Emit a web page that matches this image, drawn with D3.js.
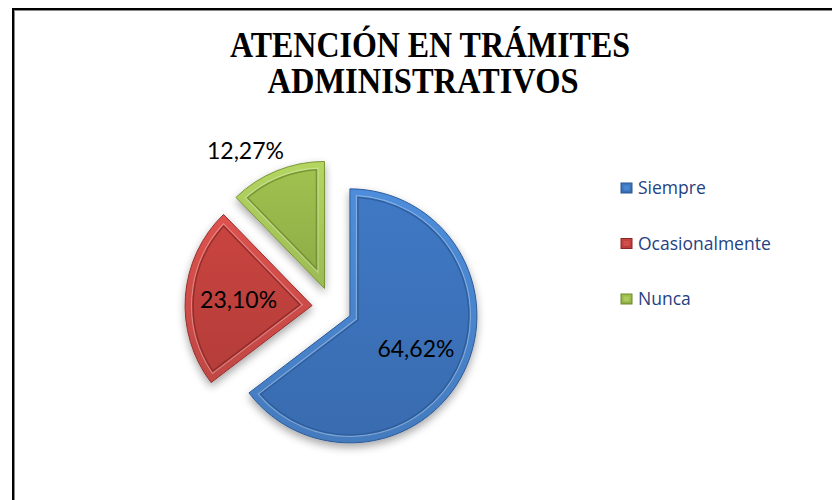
<!DOCTYPE html>
<html>
<head>
<meta charset="utf-8">
<script src="https://cdn.jsdelivr.net/npm/d3@7"></script>
<style>
  body { margin: 0; background: #fff; }
  svg { display: block; }
</style>
</head>
<body>
<div id="chart"></div>
<script>
const titleLines = ['ATENCIÓN EN TRÁMITES', 'ADMINISTRATIVOS'];
const categories = ['Siempre', 'Ocasionalmente', 'Nunca'];
const values = [64.62, 23.10, 12.27];
const labels = ['64,62%', '23,10%', '12,27%'];

const width = 832, height = 500;
const cx = 332, cy = 307, radius = 127, explode = 20, rim = 8;

const palette = [
  { rim: '#4a86d0', fill: '#3d74bd', dark: '#2a5793', edge: '#2c5a98' },
  { rim: '#d24e4a', fill: '#c2423e', dark: '#8a2623', edge: '#93302d' },
  { rim: '#abcb5c', fill: '#9aba4c', dark: '#6b8a2a', edge: '#789636' }
];

const svg = d3.select('#chart').append('svg')
    .attr('width', width)
    .attr('height', height);

const defs = svg.append('defs');

const shadow = defs.append('filter').attr('id', 'shadow')
    .attr('x', '-20%').attr('y', '-20%').attr('width', '140%').attr('height', '140%');
shadow.append('feDropShadow')
    .attr('dx', 0).attr('dy', 4).attr('stdDeviation', 4)
    .attr('flood-color', '#000').attr('flood-opacity', 0.35);

palette.forEach((c, i) => {
  const g = defs.append('linearGradient').attr('id', `rim${i}`)
      .attr('x1', 0).attr('y1', 0).attr('x2', 0).attr('y2', 1);
  g.append('stop').attr('offset', '0%').attr('stop-color', d3.color(c.rim).brighter(0.15));
  g.append('stop').attr('offset', '100%').attr('stop-color', d3.color(c.rim).darker(0.25));
  const f = defs.append('linearGradient').attr('id', `fill${i}`)
      .attr('x1', 0).attr('y1', 0).attr('x2', 0).attr('y2', 1);
  f.append('stop').attr('offset', '0%').attr('stop-color', d3.color(c.fill).brighter(0.1));
  f.append('stop').attr('offset', '100%').attr('stop-color', d3.color(c.fill).darker(0.2));
});

// frame
svg.append('rect')
    .attr('x', 13).attr('y', 9)
    .attr('width', 900).attr('height', 600)
    .attr('fill', 'none')
    .attr('stroke', '#000')
    .attr('stroke-width', 2);
svg.append('rect')
    .attr('x', 14.5).attr('y', 10.5)
    .attr('width', 900).attr('height', 600)
    .attr('fill', 'none')
    .attr('stroke', '#888')
    .attr('stroke-width', 1);

// title
const titleFont = '"Liberation Serif", "Times New Roman", serif';
svg.append('text')
    .attr('x', 430).attr('y', 57)
    .attr('text-anchor', 'middle')
    .attr('font-family', titleFont)
    .attr('font-weight', 'bold')
    .attr('font-size', 35)
    .attr('textLength', 400)
    .attr('lengthAdjust', 'spacingAndGlyphs')
    .text(titleLines[0]);
svg.append('text')
    .attr('x', 423).attr('y', 93)
    .attr('text-anchor', 'middle')
    .attr('font-family', titleFont)
    .attr('font-weight', 'bold')
    .attr('font-size', 35)
    .attr('textLength', 311)
    .attr('lengthAdjust', 'spacingAndGlyphs')
    .text(titleLines[1]);

const pie = d3.pie().sort(null)(values);
const arc = d3.arc().innerRadius(0).outerRadius(radius);

// inset outline of a slice, edges moved in parallel by w
function insetPath(s, e, R, w) {
  const half = (e - s) / 2, mid = (s + e) / 2;
  const o = w / Math.sin(half);
  const px = o * Math.sin(mid), py = -o * Math.cos(mid);
  const r = R - w;
  const hit = a => {
    const ux = Math.sin(a), uy = -Math.cos(a);
    const b = px * ux + py * uy;
    const c = px * px + py * py - r * r;
    const t = -b + Math.sqrt(b * b - c);
    return [px + t * ux, py + t * uy];
  };
  const q0 = hit(s), q1 = hit(e);
  const p = d3.path();
  p.moveTo(px, py);
  p.lineTo(q0[0], q0[1]);
  p.arc(0, 0, r, Math.atan2(q0[1], q0[0]), Math.atan2(q1[1], q1[0]), false);
  p.closePath();
  return p.toString();
}

const midAngle = d => (d.startAngle + d.endAngle) / 2;

const slices = svg.append('g')
    .attr('transform', `translate(${cx},${cy})`)
  .selectAll('g')
  .data(pie)
  .enter().append('g')
    .attr('transform', d => {
      const a = midAngle(d);
      return `translate(${explode * Math.sin(a)},${-explode * Math.cos(a)})`;
    });

slices.append('path')
    .attr('d', arc)
    .attr('fill', (d, i) => `url(#rim${i})`)
    .attr('stroke', (d, i) => palette[i].edge)
    .attr('stroke-width', 1)
    .attr('filter', 'url(#shadow)');

slices.append('path')
    .attr('d', d => insetPath(d.startAngle, d.endAngle, radius, rim - 1.5))
    .attr('fill', 'none')
    .attr('stroke', '#fff')
    .attr('stroke-opacity', 0.3)
    .attr('stroke-width', 1.2);

slices.append('path')
    .attr('d', d => insetPath(d.startAngle, d.endAngle, radius, rim))
    .attr('fill', (d, i) => `url(#fill${i})`)
    .attr('stroke', (d, i) => palette[i].dark)
    .attr('stroke-opacity', 0.8)
    .attr('stroke-width', 1.5);

// data labels
slices.append('text')
    .attr('x', d => {
      const a = midAngle(d);
      const small = d.value < 15;
      return small ? (radius + 30) * Math.sin(a) - 20 : 0.58 * radius * Math.sin(a);
    })
    .attr('y', d => {
      const a = midAngle(d);
      const small = d.value < 15;
      return small ? -(radius + 30) * Math.cos(a) + 8 : -0.58 * radius * Math.cos(a);
    })
    .attr('dy', '0.35em')
    .attr('text-anchor', 'middle')
    .attr('font-family', 'Lato, "Open Sans", sans-serif')
    .attr('font-size', 23)
    .attr('fill', '#000')
    .text((d, i) => labels[i]);

// legend
const legend = svg.selectAll('.legend')
    .data(categories)
    .enter().append('g')
    .attr('class', 'legend')
    .attr('transform', (d, i) => `translate(621,${188 + i * 55.5})`);

legend.append('rect')
    .attr('x', 0).attr('y', -5)
    .attr('width', 11).attr('height', 10)
    .attr('fill', (d, i) => `url(#fill${i})`)
    .attr('stroke', (d, i) => palette[i].dark)
    .attr('stroke-width', 1);

legend.append('rect')
    .attr('x', 2.5).attr('y', -2.5)
    .attr('width', 6).attr('height', 5)
    .attr('fill', (d, i) => palette[i].rim);

legend.append('text')
    .attr('x', 17)
    .attr('y', 6)
    .attr('font-family', '"Comic Sans MS", "Open Sans", sans-serif')
    .attr('font-size', 17.5)
    .attr('fill', '#1f4282')
    .text(d => d);
</script>
</body>
</html>
